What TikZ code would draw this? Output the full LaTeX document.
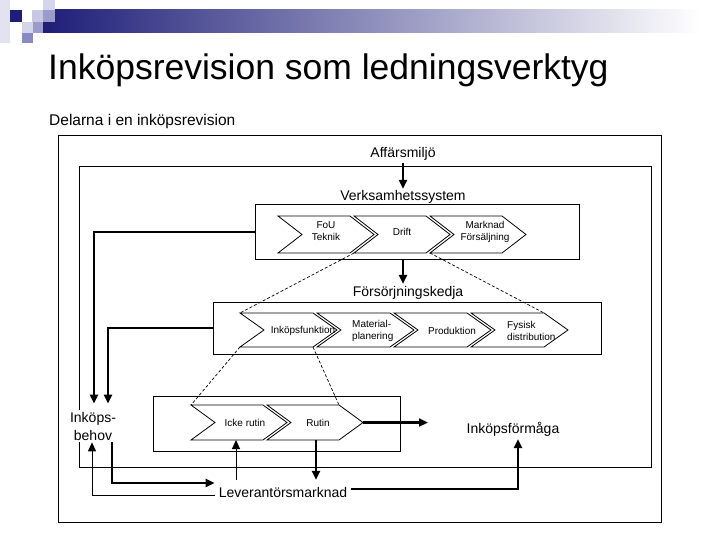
\documentclass[tikz,border=0pt]{standalone}
\usepackage{fontspec}
\setmainfont{Liberation Sans}
\usetikzlibrary{arrows.meta,calc}
\definecolor{navy}{RGB}{30,30,120}
\definecolor{lavA}{RGB}{226,226,241}
\definecolor{lavB}{RGB}{200,200,228}
\definecolor{lavC}{RGB}{156,156,204}
\definecolor{lavD}{RGB}{138,138,194}
\definecolor{lavE}{RGB}{212,212,234}
\newcommand\mychev[5]{%
  \draw[chev] (#2,#4) -- ({#3-24},#4) -- (#3,{(#4+#5)/2}) -- ({#3-24},#5) -- (#2,#5) -- ({#2+24},{(#4+#5)/2}) -- cycle;
  \coordinate (#1-tl) at (#2,#4);
  \coordinate (#1-tr) at ({#3-24},#4);
  \coordinate (#1-bl) at (#2,#5);
  \coordinate (#1-br) at ({#3-24},#5);
  \coordinate (#1-tip) at (#3,{(#4+#5)/2});
}
\begin{document}
\begin{tikzpicture}[x=1pt,y=-1pt,
  box/.style={draw,line width=1pt,inner sep=0pt},
  chev/.style={draw,line width=0.8pt,fill=white},
  lbl/.style={font=\fontsize{14}{17}\selectfont,text height=10pt,text depth=3pt,inner sep=2pt},
  clbl/.style={font=\fontsize{10}{12.5}\selectfont,align=center,inner sep=0pt},
  thickc/.style={line width=2.4pt},
  thinc/.style={line width=1pt},
  arr/.style={-{Triangle[length=9pt,width=8pt]}},
  dashln/.style={dash pattern=on 3pt off 2pt,line width=0.7pt}
]
\useasboundingbox (0,0) rectangle (720,540);
% header decoration
\fill[lavA] (0,0) rectangle (10,43);
\shade[left color=navy,right color=white] (43,10) rectangle (700,33);
\fill[navy] (10,10) rectangle (22,22);
\fill[lavB] (32,10) rectangle (43,22);
\fill[lavE] (43,0) rectangle (55,10);
\fill[lavC] (43,10) rectangle (55,22);
\fill[lavE] (22,22) rectangle (33,33);
\fill[lavC] (33,22) rectangle (43,33);
\fill[lavD] (22,33) rectangle (33,43);
% title
\node[anchor=base west,font=\fontsize{35.5}{40}\selectfont,inner sep=0pt] (title) at (48,80) {Inköpsrevision som ledningsverktyg};
\node[anchor=base west,font=\fontsize{15.5}{18}\selectfont,inner sep=0pt] (sub) at (49,126) {Delarna i en inköpsrevision};
% boxes
\node[box,minimum width=603pt,minimum height=386pt] (outer) at (359.5,329) {};
\node[box,minimum width=572pt,minimum height=300pt] (inner) at (365,317) {};
\node[box,minimum width=324pt,minimum height=54pt] (vbox) at (417,232) {};
\node[box,minimum width=388pt,minimum height=52pt] (fbox) at (407,328) {};
\node[box,minimum width=247pt,minimum height=55pt] (sbox) at (276.5,423.5) {};
% labels
\node[lbl] (aff) at (403,154.5) {Affärsmiljö};
\node[lbl] (verk) at (403,197.5) {Verksamhetssystem};
\node[lbl] (fors) at (408,292.5) {Försörjningskedja};
\node[lbl,inner ysep=7pt,inner xsep=4pt] (lev) at (283,493.5) {Leverantörsmarknad};
\node[lbl] (form) at (513,429.5) {Inköpsförmåga};
\node[font=\fontsize{14}{18}\selectfont,align=center,inner sep=2pt,fill=white] (behov) at (93,426) {Inköps-\\behov};
% chevrons
\mychev{fou}{278}{374}{216}{253}
\mychev{drift}{354}{450}{216}{253}
\mychev{mark}{430}{526}{216}{253}
\mychev{inkf}{240}{337}{313}{347}
\mychev{mat}{317}{414}{313}{347}
\mychev{prod}{394}{491}{313}{347}
\mychev{fys}{471}{568}{313}{347}
\mychev{icke}{191}{287}{405}{440}
\mychev{rut}{267}{363}{405}{440}
% chevron labels
\node[clbl] (foul) at (326,231) {FoU\\Teknik};
\node[clbl] (driftl) at (402,232) {Drift};
\node[clbl] (markl) at (485,232) {Marknad\\Försäljning};
\node[clbl] (inkfl) at (303,331) {Inköpsfunktion};
\node[clbl,align=left,anchor=west] (matl) at (352,331) {Material-\\planering};
\node[clbl] (prodl) at (452,331) {Produktion};
\node[clbl,align=left,anchor=west] (fysl) at (507,331) {Fysisk\\distribution};
\node[clbl] (ickel) at (245,423) {Icke rutin};
\node[clbl] (rutl) at (318,423) {Rutin};
% dashed zoom lines
\draw[dashln] (drift-bl) -- (inkf-tl);
\draw[dashln] (mark-bl) -- (fys-tr);
\draw[dashln] (inkf-bl) -- (icke-tl);
\draw[dashln] (inkf-br) -- (rut-tr);
% coordinates
\coordinate (icke-b) at (236,440);
\coordinate (rut-b) at (316,440);
\coordinate (rend) at (428,422.5);
\coordinate (bx) at ($(behov.north)+(15,0)$);
\coordinate (fbend) at (bx |- fbox.west);
% connectors
\draw[thickc,arr] (aff.south) -- (verk.north);
\draw[thickc,arr] (vbox.south -| aff) -- (fors.north -| aff);
\draw[thickc,arr] (vbox.west) -| ($(behov.north)+(1,-6)$);
\draw[line width=1.2pt] (fbox.west) -- (fbend);
\draw[thickc,arr] ($(fbend)+(0,-0.6)$) -- ($(behov.north)+(15,-6)$);
\draw[thickc,arr] (rut-tip) -- (rend);
\draw[thickc,arr] ($(behov.south)+(19,0)$) |- ($(lev.west)+(0,-10.5)$);
\draw[thinc,arr] ($(lev.west)+(0,1.5)$) -| ($(behov.south)+(-1,0)$);
\draw[thinc,arr] (lev.north -| icke-b) -- (icke-b);
\draw[thickc,arr] (rut-b) -- (lev.north -| rut-b);
\draw[thickc,arr] ($(lev.east)+(0,-4.5)$) -| ($(form.south)+(5,1)$);
\end{tikzpicture}
\end{document}
